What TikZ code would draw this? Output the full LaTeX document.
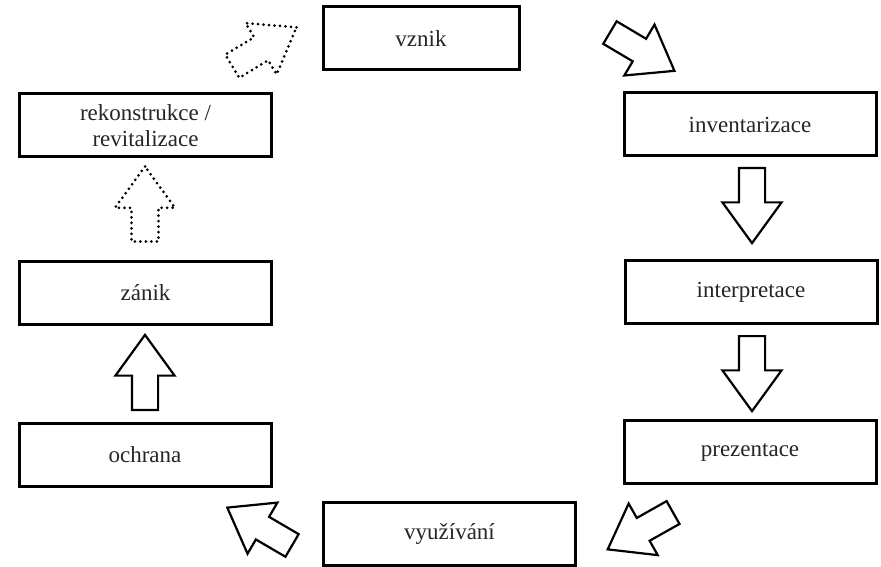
\documentclass[tikz,border=0pt]{standalone}
\usepackage{fontspec}
\setmainfont{Liberation Serif}
\usepackage{tikz}
\usetikzlibrary{shapes.arrows}
\usetikzlibrary{positioning}
\tikzset{stage/.style={draw,line width=3pt,fill=white,minimum width=252pt,
                       minimum height=63pt,align=center,inner sep=2pt,
                       font=\fontsize{23}{26}\selectfont,text=black!85}}
\tikzset{blockarrow/.style={draw,line width=2.2pt,single arrow,anchor=tail,
                       inner xsep=0pt,inner ysep=12pt,minimum height=75pt,
                       single arrow head extend=16.5pt,single arrow tip angle=72}}
\tikzset{dotarrow/.style={blockarrow,line width=3pt,line cap=round,
                       dash pattern=on 0pt off 5.5pt}}

\begin{document}
\begin{tikzpicture}[x=1pt,y=1pt]

    \useasboundingbox (0,0) rectangle (881,-567);

    \node[stage,minimum width=196pt] (vznik) at (421,-38.5){vznik};
    \node[stage] (inv) at (750,-124.5){inventarizace};
    \node[stage] (int) at (751,-292){interpretace};
    \node[stage] (prez) at (750,-452){prezentace};
    \node[stage] (vyuz) at (449.5,-533.5){využívání};
    \node[stage] (ochr) at (145,-454.5){ochrana};
    \node[stage] (zanik) at (145.5,-292.5){zánik};
    \node[stage] (rek) at (145.5,-125.5){rekonstrukce /\\revitalizace};
    
    
    \node[blockarrow,rotate=-30.7] (a1) at (609,-32){};
    \node[blockarrow,rotate=-90] (a2) at (752,-167){};
    \node[blockarrow,rotate=-90] (a3) at (752,-335){};
    \node[blockarrow,rotate=-150.6] (a4) at (674,-512){};
    \node[blockarrow,rotate=149.7] (a5) at (293,-546){};
    \node[blockarrow,rotate=90] (a6) at (145,-411){};
    \node[dotarrow,rotate=90] (a7) at (145,-243){};
    \node[dotarrow,rotate=31.2] (a8) at (231,-67){};
    
\end{tikzpicture}
\end{document}
